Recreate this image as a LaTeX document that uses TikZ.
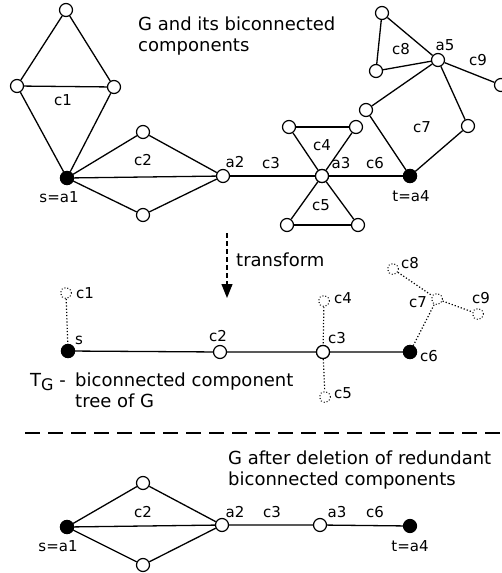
\documentclass[tikz,border=0pt]{standalone}
\usepackage{fontspec}
\setmainfont{DejaVu Sans}
\usetikzlibrary{arrows.meta}
\begin{document}
\begin{tikzpicture}[x=1pt,y=-1pt,
  vtx/.style={circle,draw,fill=white,minimum size=13pt,inner sep=0pt,line width=1.2pt},
  blk/.style={vtx,fill=black},
  ghost/.style={circle,draw,dotted,fill=white,minimum size=11pt,inner sep=0pt,line width=1pt},
  edge/.style={line width=1.3pt},
  tedge/.style={line width=1.2pt,dotted},
  lbl/.style={inner sep=0pt,font=\fontsize{15}{18}\selectfont},
  big/.style={inner sep=0pt,align=left,font=\fontsize{18}{21}\selectfont}]
\useasboundingbox (0,0) rectangle (501,573);

% ---------- G with its biconnected components ----------
\node[vtx] (c1t) at (66,10) {};
\node[vtx] (c1l) at (17,86) {};
\node[vtx] (c1r) at (114,87) {};
\node[vtx] (c2t) at (143,132) {};
\node[vtx] (c2b) at (143,215) {};
\node[vtx] (a2) at (223,176) {};
\node[vtx] (c4l) at (289,127) {};
\node[vtx] (c4r) at (356,127) {};
\node[vtx] (c5l) at (287,225) {};
\node[vtx] (c5r) at (358,225) {};
\node[vtx] (c7l) at (366,110) {};
\node[vtx] (c7r) at (468,126) {};
\node[vtx] (c8t) at (382,13) {};
\node[vtx] (c8b) at (376,71) {};
\node[vtx] (c9n) at (501,85) {};

\draw[edge] (c1t) -- (c1l) (c1t) -- (c1r) (c1l) -- (c1r);
\draw[edge] (c4l) -- (c4r) (c5l) -- (c5r);
\draw[edge] (c8t) -- (c8b);
\node[blk] (a1) at (67,178) {};
\node[vtx] (a3) at (322,176) {};
\node[blk] (a4) at (410,176) {};
\node[vtx] (a5) at (438,60) {};
\draw[edge] (c1l) -- (a1) (c1r) -- (a1);
\draw[edge] (a1) -- (c2t) -- (a2) (a1) -- (a2) (a1) -- (c2b) -- (a2);
\draw[edge] (a2) -- (a3) -- (a4);
\draw[edge] (c4l) -- (a3) -- (c4r);
\draw[edge] (c5l) -- (a3) -- (c5r);
\draw[edge] (a5) -- (c7l) -- (a4) -- (c7r) -- (a5);
\draw[edge] (c8t) -- (a5) -- (c8b);
\draw[edge] (a5) -- (c9n);
% redraw the cut vertices above the edges
\node[blk] at (a1) {};
\node[vtx] at (a3) {};
\node[blk] at (a4) {};

\node[lbl] (lc1) at (63,100) {c1};
\node[lbl] (lc2) at (143,160) {c2};
\node[lbl] (la1) at (59,197) {s=a1};
\node[lbl] (la2) at (235,162) {a2};
\node[lbl] (lc3) at (271,163) {c3};
\node[lbl] (lc4) at (322,145) {c4};
\node[lbl] (la3) at (341,163) {a3};
\node[lbl] (lc5) at (321,205) {c5};
\node[lbl] (lc6) at (375,163) {c6};
\node[lbl] (la4) at (411,196) {t=a4};
\node[lbl] (lc7) at (422,127) {c7};
\node[lbl] (lc8) at (401,49) {c8};
\node[lbl] (la5) at (445,45) {a5};
\node[lbl] (lc9) at (478,60) {c9};

\node[big,anchor=north west] (title1) at (138,17) {G and its biconnected\\components};

% ---------- transformation arrow ----------
\coordinate (tfA) at (227,233);
\coordinate (tfB) at (227,298);
\draw[line width=1.2pt,dash pattern=on 5pt off 3pt,-{Triangle[length=14pt,width=11pt]}] (tfA) -- (tfB);
\node[lbl,anchor=west,font=\fontsize{18}{21}\selectfont] (tf) at (236,260) {transform};

% ---------- biconnected component tree ----------
\node[ghost] (t1) at (66,293) {};
\node[blk] (ts) at (68,351) {};
\node[vtx] (t2) at (220,352) {};
\node[vtx] (t3) at (323,352) {};
\node[blk] (t6) at (410,352) {};
\node[ghost] (t4) at (324,301) {};
\node[ghost] (t5) at (325,397) {};
\node[ghost] (t7) at (437,299) {};
\node[ghost] (t8) at (393,269) {};
\node[ghost] (t9) at (478,314) {};

\draw[edge] (ts) -- (t2) -- (t3) -- (t6);
\draw[tedge] (t1) -- (ts);
\draw[tedge] (t4) -- (t3) -- (t5);
\draw[tedge] (t6) -- (t7);
\draw[tedge] (t8) -- (t7) -- (t9);
\node[vtx] at (t3) {};
\node[blk] at (ts) {};
\node[blk] at (t6) {};

\node[lbl] (tl1) at (85,293) {c1};
\node[lbl] (tls) at (79,340) {s};
\node[lbl] (tl2) at (218,336) {c2};
\node[lbl] (tl3) at (337,338) {c3};
\node[lbl] (tl4) at (343,298) {c4};
\node[lbl] (tl5) at (343,393) {c5};
\node[lbl] (tl6) at (429,356) {c6};
\node[lbl] (tl7) at (418,302) {c7};
\node[lbl] (tl8) at (410,263) {c8};
\node[lbl] (tl9) at (481,298) {c9};

\node[big,anchor=base west] (tg) at (30,386) {T\raisebox{-4pt}{\fontsize{16}{16}\selectfont G} -};
\node[big,anchor=north west] (tgtext) at (75,373) {biconnected component\\tree of G};

% ---------- separator ----------
\coordinate (sepL) at (25,433);
\coordinate (sepR) at (505,433);
\draw[line width=2.4pt,dash pattern=on 15pt off 8pt] (sepL) -- (sepR);

% ---------- G after deletion ----------
\node[big,anchor=north west] (title2) at (228,451) {G after deletion of redundant\\biconnected components};

\node[vtx] (b2t) at (143,483) {};
\node[vtx] (b2b) at (143,565) {};
\node[blk] (b1) at (67,527) {};
\node[vtx] (b2) at (222,525) {};
\node[vtx] (b3) at (320,525) {};
\node[blk] (b4) at (410,526) {};
\draw[edge] (b1) -- (b2t) -- (b2) (b1) -- (b2) (b1) -- (b2b) -- (b2);
\draw[edge] (b2) -- (b3) -- (b4);
\node[blk] at (b1) {};

\node[lbl] (bl1) at (58,546) {s=a1};
\node[lbl] (bl2) at (143,512) {c2};
\node[lbl] (bla2) at (235,512) {a2};
\node[lbl] (bl3) at (272,512) {c3};
\node[lbl] (bla3) at (337,512) {a3};
\node[lbl] (bl6) at (375,512) {c6};
\node[lbl] (bl4) at (410,546) {t=a4};
\end{tikzpicture}
\end{document}
